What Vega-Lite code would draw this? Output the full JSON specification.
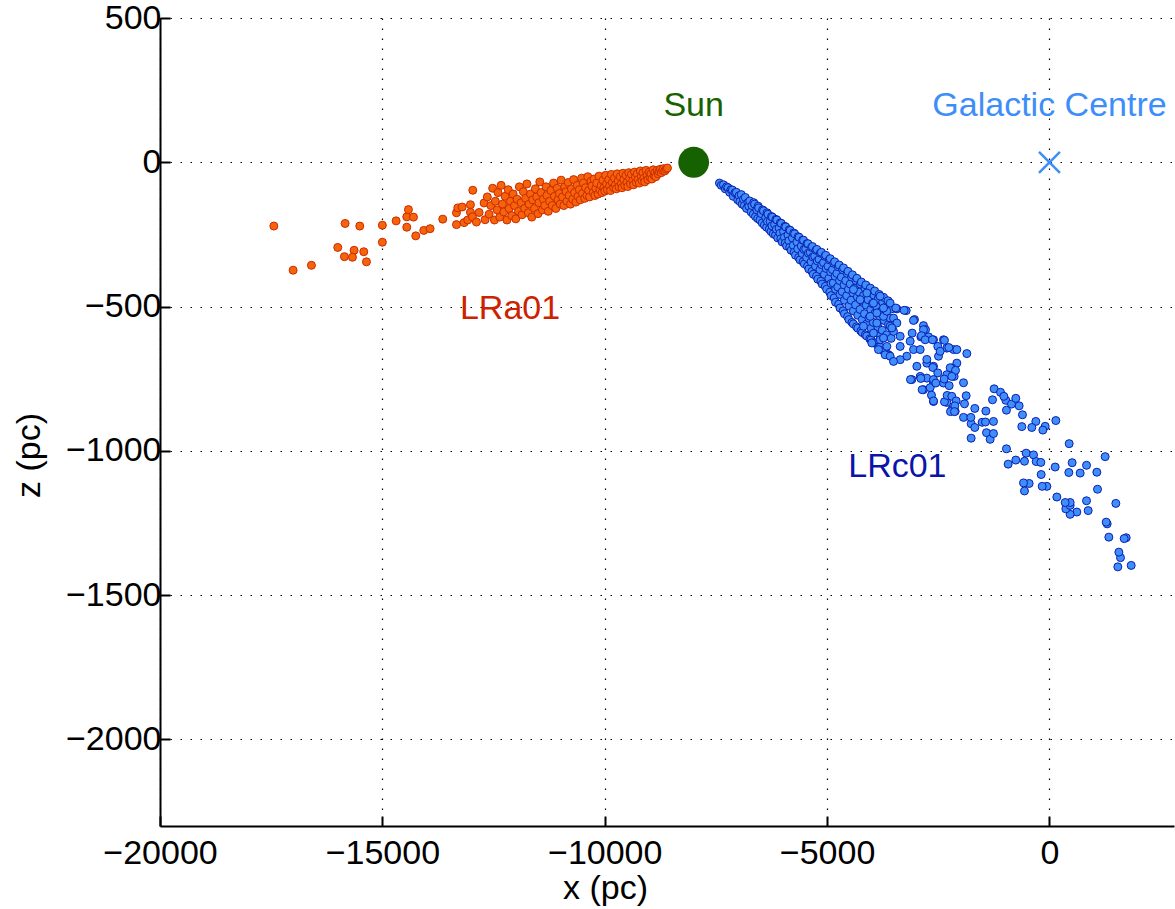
{
  "$schema": "https://vega.github.io/schema/vega-lite/v6.json",
  "width": 1014,
  "height": 808,
  "autosize": {"type": "none"},
  "padding": {"left": 160, "top": 18, "right": 1, "bottom": 83},
  "background": "white",
  "config": {
    "view": {"stroke": null},
    "font": "Liberation Sans",
    "axis": {
      "domainColor": "black",
      "domainWidth": 2,
      "tickColor": "black",
      "tickWidth": 2,
      "tickSize": -10,
      "grid": true,
      "gridColor": "black",
      "gridWidth": 1.2,
      "gridDash": [1.5, 8.5],
      "labelFlush": false,
      "labelOverlap": false,
      "labelFont": "Liberation Sans",
      "labelFontSize": 34,
      "labelColor": "black",
      "titleFont": "Liberation Sans",
      "titleFontSize": 34,
      "titleFontWeight": "normal",
      "titleColor": "black"
    }
  },
  "datasets": {
    "lrc": [
      {"x":-7420,"z":-72},{"x":-7380,"z":-80},
      {"x":-7330,"z":-78},{"x":-7290,"z":-92},{"x":-7260,"z":-85},
      {"x":-7230,"z":-88},{"x":-7190,"z":-104},{"x":-7160,"z":-95},
      {"x":-7130,"z":-96},{"x":-7110,"z":-118},{"x":-7070,"z":-106},
      {"x":-7040,"z":-104},{"x":-7010,"z":-130},{"x":-6980,"z":-116},{"x":-6960,"z":-136},
      {"x":-6930,"z":-112},{"x":-6910,"z":-145},{"x":-6880,"z":-128},{"x":-6860,"z":-150},
      {"x":-6840,"z":-122},{"x":-6810,"z":-160},{"x":-6780,"z":-140},{"x":-6760,"z":-152},
      {"x":-6740,"z":-134},{"x":-6710,"z":-172},{"x":-6690,"z":-150},{"x":-6660,"z":-180},{"x":-6650,"z":-140},
      {"x":-6630,"z":-145},{"x":-6610,"z":-188},{"x":-6580,"z":-165},{"x":-6560,"z":-195},{"x":-6550,"z":-152},
      {"x":-6540,"z":-158},{"x":-6510,"z":-200},{"x":-6480,"z":-178},{"x":-6460,"z":-210},{"x":-6450,"z":-165},
      {"x":-6430,"z":-168},{"x":-6410,"z":-218},{"x":-6380,"z":-192},{"x":-6360,"z":-225},{"x":-6350,"z":-175},{"x":-6340,"z":-205},
      {"x":-6330,"z":-180},{"x":-6300,"z":-232},{"x":-6280,"z":-205},{"x":-6260,"z":-240},{"x":-6250,"z":-188},{"x":-6240,"z":-220},
      {"x":-6230,"z":-190},{"x":-6210,"z":-248},{"x":-6180,"z":-215},{"x":-6160,"z":-252},{"x":-6150,"z":-198},{"x":-6140,"z":-232},
      {"x":-6130,"z":-200},{"x":-6110,"z":-262},{"x":-6080,"z":-228},{"x":-6060,"z":-246},{"x":-6050,"z":-210},{"x":-6040,"z":-265},
      {"x":-6030,"z":-212},{"x":-6010,"z":-276},{"x":-5980,"z":-240},{"x":-5960,"z":-260},{"x":-5950,"z":-222},{"x":-5940,"z":-280},
      {"x":-5930,"z":-224},{"x":-5910,"z":-290},{"x":-5880,"z":-252},{"x":-5860,"z":-272},{"x":-5850,"z":-234},{"x":-5840,"z":-295},
      {"x":-5830,"z":-236},{"x":-5810,"z":-305},{"x":-5780,"z":-262},{"x":-5760,"z":-288},{"x":-5750,"z":-245},{"x":-5740,"z":-312},
      {"x":-5730,"z":-248},{"x":-5710,"z":-322},{"x":-5680,"z":-276},{"x":-5660,"z":-300},{"x":-5650,"z":-258},{"x":-5640,"z":-330},
      {"x":-5630,"z":-260},{"x":-5610,"z":-338},{"x":-5580,"z":-290},{"x":-5560,"z":-316},{"x":-5550,"z":-270},{"x":-5540,"z":-345},{"x":-5520,"z":-302},
      {"x":-5530,"z":-270},{"x":-5510,"z":-352},{"x":-5480,"z":-300},{"x":-5460,"z":-330},{"x":-5450,"z":-282},{"x":-5440,"z":-360},{"x":-5420,"z":-315},
      {"x":-5430,"z":-282},{"x":-5410,"z":-370},{"x":-5380,"z":-312},{"x":-5360,"z":-345},{"x":-5350,"z":-295},{"x":-5340,"z":-378},{"x":-5320,"z":-328},
      {"x":-5330,"z":-292},{"x":-5310,"z":-388},{"x":-5280,"z":-325},{"x":-5260,"z":-360},{"x":-5250,"z":-305},{"x":-5240,"z":-395},{"x":-5220,"z":-342},
      {"x":-5230,"z":-302},{"x":-5210,"z":-405},{"x":-5180,"z":-336},{"x":-5160,"z":-372},{"x":-5150,"z":-315},{"x":-5140,"z":-412},{"x":-5120,"z":-355},
      {"x":-5130,"z":-312},{"x":-5110,"z":-422},{"x":-5080,"z":-348},{"x":-5060,"z":-388},{"x":-5050,"z":-326},{"x":-5040,"z":-430},{"x":-5020,"z":-368},
      {"x":-5030,"z":-322},{"x":-5010,"z":-440},{"x":-4980,"z":-360},{"x":-4960,"z":-402},{"x":-4950,"z":-338},{"x":-4940,"z":-450},{"x":-4920,"z":-380},{"x":-4910,"z":-420},
      {"x":-4930,"z":-334},{"x":-4910,"z":-462},{"x":-4880,"z":-372},{"x":-4860,"z":-418},{"x":-4850,"z":-350},{"x":-4840,"z":-470},{"x":-4820,"z":-395},{"x":-4810,"z":-440},
      {"x":-4830,"z":-345},{"x":-4810,"z":-485},{"x":-4780,"z":-385},{"x":-4760,"z":-432},{"x":-4750,"z":-362},{"x":-4740,"z":-492},{"x":-4720,"z":-410},{"x":-4710,"z":-458},
      {"x":-4730,"z":-356},{"x":-4710,"z":-505},{"x":-4680,"z":-398},{"x":-4660,"z":-448},{"x":-4650,"z":-372},{"x":-4640,"z":-515},{"x":-4620,"z":-425},{"x":-4610,"z":-478},
      {"x":-4630,"z":-366},{"x":-4610,"z":-525},{"x":-4580,"z":-410},{"x":-4560,"z":-462},{"x":-4550,"z":-385},{"x":-4540,"z":-535},{"x":-4520,"z":-440},{"x":-4510,"z":-498},
      {"x":-4530,"z":-378},{"x":-4510,"z":-545},{"x":-4480,"z":-422},{"x":-4460,"z":-478},{"x":-4450,"z":-398},{"x":-4440,"z":-555},{"x":-4420,"z":-452},{"x":-4410,"z":-515},
      {"x":-4430,"z":-390},{"x":-4410,"z":-560},{"x":-4380,"z":-436},{"x":-4360,"z":-494},{"x":-4350,"z":-410},{"x":-4340,"z":-570},{"x":-4320,"z":-466},{"x":-4310,"z":-530},
      {"x":-4330,"z":-402},{"x":-4310,"z":-575},{"x":-4280,"z":-450},{"x":-4260,"z":-510},{"x":-4250,"z":-422},{"x":-4240,"z":-585},{"x":-4220,"z":-480},{"x":-4210,"z":-545},
      {"x":-4230,"z":-415},{"x":-4210,"z":-590},{"x":-4180,"z":-462},{"x":-4160,"z":-525},{"x":-4150,"z":-436},{"x":-4140,"z":-598},{"x":-4120,"z":-495},{"x":-4110,"z":-560},
      {"x":-4130,"z":-425},{"x":-4110,"z":-602},{"x":-4080,"z":-476},{"x":-4060,"z":-540},{"x":-4050,"z":-448},{"x":-4040,"z":-612},{"x":-4020,"z":-510},{"x":-4010,"z":-575},
      {"x":-4030,"z":-436},{"x":-4010,"z":-615},{"x":-3980,"z":-490},{"x":-3960,"z":-555},{"x":-3950,"z":-460},{"x":-3940,"z":-625},{"x":-3920,"z":-522},{"x":-3910,"z":-590},
      {"x":-3930,"z":-446},{"x":-3910,"z":-628},{"x":-3880,"z":-502},{"x":-3860,"z":-570},{"x":-3850,"z":-472},{"x":-3840,"z":-640},{"x":-3820,"z":-535},{"x":-3810,"z":-602},
      {"x":-3830,"z":-458},{"x":-3810,"z":-640},{"x":-3780,"z":-515},{"x":-3760,"z":-582},{"x":-3750,"z":-485},{"x":-3740,"z":-652},{"x":-3720,"z":-548},
      {"x":-3730,"z":-468},{"x":-3710,"z":-655},{"x":-3680,"z":-528},{"x":-3660,"z":-598},{"x":-3650,"z":-496},{"x":-3640,"z":-665},{"x":-3620,"z":-562},
      {"x":-3630,"z":-480},{"x":-3610,"z":-668},{"x":-3580,"z":-540},{"x":-3560,"z":-610},{"x":-3550,"z":-508},{"x":-3530,"z":-580},
      {"x":-4407,"z":-441},{"x":-4257,"z":-476},{"x":-4107,"z":-453},{"x":-3957,"z":-488},{"x":-3807,"z":-464},{"x":-4032,"z":-534},
      {"x":-3882,"z":-557},{"x":-3732,"z":-534},{"x":-4182,"z":-568},{"x":-3957,"z":-592},{"x":-3807,"z":-615},{"x":-3657,"z":-516},
      {"x":-3582,"z":-488},{"x":-3732,"z":-505},{"x":-3882,"z":-522},{"x":-3507,"z":-540},{"x":-3432,"z":-557},{"x":-3995,"z":-626},
      {"x":-3845,"z":-649},{"x":-3695,"z":-667},{"x":-3582,"z":-672},
      {"x":-3432,"z":-508},{"x":-3222,"z":-514},{"x":-3035,"z":-545},{"x":-2833,"z":-566},{"x":-2787,"z":-580},{"x":-2892,"z":-605},
      {"x":-2720,"z":-605},{"x":-2608,"z":-615},{"x":-2383,"z":-615},{"x":-2308,"z":-644},{"x":-2158,"z":-649},{"x":-2083,"z":-696},
      {"x":-2195,"z":-713},{"x":-2308,"z":-736},{"x":-2143,"z":-742},{"x":-2383,"z":-765},{"x":-2608,"z":-765},{"x":-2758,"z":-748},
      {"x":-2907,"z":-742},{"x":-3095,"z":-753},{"x":-2833,"z":-788},{"x":-2608,"z":-829},{"x":-2308,"z":-832},{"x":-2195,"z":-857},
      {"x":-2120,"z":-863},{"x":-3057,"z":-649},{"x":-3207,"z":-672},{"x":-3357,"z":-684},{"x":-3507,"z":-690},{"x":-2982,"z":-707},
      {"x":-2758,"z":-696},{"x":-2608,"z":-707},{"x":-2495,"z":-672},{"x":-2907,"z":-649},{"x":-3132,"z":-620},{"x":-3357,"z":-603},
      {"x":-3507,"z":-586},{"x":-3582,"z":-568},{"x":-3732,"z":-609},{"x":-3657,"z":-638},{"x":-3357,"z":-638},
      {"x":-3545,"z":-574},{"x":-3455,"z":-505},{"x":-3268,"z":-513},{"x":-3058,"z":-548},{"x":-3088,"z":-592},{"x":-2833,"z":-580},
      {"x":-2878,"z":-601},{"x":-2795,"z":-615},{"x":-2631,"z":-615},{"x":-2511,"z":-638},{"x":-2458,"z":-655},{"x":-2623,"z":-711},
      {"x":-2758,"z":-683},{"x":-3125,"z":-753},{"x":-2893,"z":-749},{"x":-2863,"z":-788},{"x":-2683,"z":-781},{"x":-2653,"z":-807},
      {"x":-2608,"z":-827},{"x":-2608,"z":-753},{"x":-2556,"z":-765},{"x":-2511,"z":-730},{"x":-2368,"z":-751},{"x":-2361,"z":-617},
      {"x":-2263,"z":-642},{"x":-2083,"z":-649},{"x":-1858,"z":-663},{"x":-2233,"z":-712},{"x":-2113,"z":-721},{"x":-2196,"z":-742},
      {"x":-2255,"z":-774},{"x":-2361,"z":-830},{"x":-2301,"z":-808},{"x":-2196,"z":-811},{"x":-2098,"z":-827},{"x":-2128,"z":-844},
      {"x":-2226,"z":-864},{"x":-2136,"z":-864},{"x":-1933,"z":-764},{"x":-1873,"z":-809},{"x":-1761,"z":-906},{"x":-1933,"z":-884},
      {"x":-1911,"z":-837},{"x":-1768,"z":-884},{"x":-1761,"z":-956},{"x":-1679,"z":-919},{"x":-1679,"z":-853},{"x":-1514,"z":-901},
      {"x":-1431,"z":-862},{"x":-1439,"z":-900},{"x":-1416,"z":-937},{"x":-1334,"z":-960},{"x":-1259,"z":-940},{"x":-1259,"z":-898},
      {"x":-1281,"z":-823},{"x":-1244,"z":-785},{"x":-981,"z":-825},{"x":-1101,"z":-797},{"x":-1026,"z":-811},{"x":-967,"z":-859},
      {"x":-854,"z":-838},{"x":-757,"z":-818},{"x":-682,"z":-844},{"x":-607,"z":-875},{"x":-307,"z":-898},{"x":-97,"z":-915},
      {"x":-149,"z":-928},{"x":-397,"z":-919},{"x":-622,"z":-916},{"x":-562,"z":-1139},{"x":-457,"z":-1113},{"x":-584,"z":-1111},
      {"x":-967,"z":-993},{"x":-929,"z":-1046},{"x":-757,"z":-1032},{"x":-562,"z":-1036},{"x":-524,"z":-1008},{"x":-359,"z":-1014},
      {"x":-299,"z":-1037},{"x":-194,"z":-1040},{"x":-187,"z":-1082},{"x":-59,"z":-1123},{"x":-164,"z":-1123},{"x":166,"z":-1160},
      {"x":615,"z":-1212},{"x":465,"z":-1220},{"x":368,"z":-1201},{"x":465,"z":-1189},{"x":465,"z":-1179},{"x":353,"z":-1179},
      {"x":870,"z":-1207},{"x":833,"z":-1173},{"x":128,"z":-1056},{"x":510,"z":-1041},{"x":435,"z":-1075},{"x":690,"z":-1077},
      {"x":833,"z":-1050},{"x":1080,"z":-1133},{"x":1065,"z":-1074},{"x":1837,"z":-1397},{"x":1537,"z":-1402},{"x":1597,"z":-1370},
      {"x":1560,"z":-1351},{"x":1725,"z":-1301},{"x":1680,"z":-1304},{"x":1335,"z":-1299},{"x":1297,"z":-1253},{"x":1275,"z":-1247},
      {"x":1492,"z":-1182},{"x":1252,"z":-1020},{"x":443,"z":-975},{"x":143,"z":-895}
    ],
    "lra": [
      {"x":-17440,"z":-221},{"x":-17007,"z":-374},{"x":-16595,"z":-357},{"x":-16003,"z":-295},{"x":-15853,"z":-327},
      {"x":-15838,"z":-212},{"x":-15636,"z":-305},{"x":-15673,"z":-329},{"x":-15508,"z":-221},{"x":-15418,"z":-310},
      {"x":-15358,"z":-345},{"x":-15000,"z":-218},{"x":-15000,"z":-277},{"x":-14691,"z":-203},{"x":-14451,"z":-189},
      {"x":-14414,"z":-164},{"x":-14451,"z":-225},{"x":-14301,"z":-190},{"x":-14249,"z":-255},{"x":-14069,"z":-236},
      {"x":-13927,"z":-230},{"x":-13642,"z":-197},{"x":-13334,"z":-216},{"x":-13334,"z":-175},{"x":-13304,"z":-158},
      {"x":-13207,"z":-155},{"x":-13162,"z":-209},{"x":-13080,"z":-200},{"x":-13020,"z":-147},{"x":-13020,"z":-173},
      {"x":-12967,"z":-97},{"x":-12975,"z":-189},{"x":-12885,"z":-207},{"x":-12825,"z":-174},{"x":-12712,"z":-141},
      {"x":-12690,"z":-199},
      {"x":-12640,"z":-120},{"x":-12600,"z":-180},{"x":-12560,"z":-150},{"x":-12520,"z":-90},
      {"x":-12480,"z":-200},{"x":-12460,"z":-135},{"x":-12420,"z":-165},{"x":-12400,"z":-105},
      {"x":-12360,"z":-190},{"x":-12330,"z":-80},{"x":-12300,"z":-145},{"x":-12270,"z":-172},{"x":-12240,"z":-118},
      {"x":-12200,"z":-200},{"x":-12170,"z":-95},{"x":-12150,"z":-160},{"x":-12120,"z":-135},{"x":-12090,"z":-185},
      {"x":-12060,"z":-110},{"x":-12030,"z":-150},{"x":-12000,"z":-196},{"x":-11970,"z":-128},{"x":-11940,"z":-170},{"x":-11920,"z":-85},
      {"x":-11880,"z":-140},{"x":-11860,"z":-182},{"x":-11830,"z":-102},{"x":-11800,"z":-160},{"x":-11780,"z":-125},
      {"x":-11750,"z":-75},{"x":-11720,"z":-175},{"x":-11700,"z":-145},{"x":-11670,"z":-110},{"x":-11640,"z":-190},{"x":-11620,"z":-130},
      {"x":-11580,"z":-160},{"x":-11560,"z":-92},{"x":-11530,"z":-120},{"x":-11500,"z":-178},{"x":-11480,"z":-140},{"x":-11460,"z":-68},
      {"x":-11430,"z":-105},{"x":-11400,"z":-165},{"x":-11380,"z":-128},{"x":-11350,"z":-150},{"x":-11320,"z":-85},{"x":-11300,"z":-115},
      {"x":-11270,"z":-170},{"x":-11240,"z":-135},{"x":-11210,"z":-98},{"x":-11180,"z":-150},{"x":-11150,"z":-72},{"x":-11130,"z":-118},
      {"x":-11100,"z":-160},{"x":-11070,"z":-90},{"x":-11050,"z":-130},{"x":-11020,"z":-108},{"x":-11000,"z":-145},{"x":-10980,"z":-62},
      {"x":-10950,"z":-120},{"x":-10920,"z":-150},{"x":-10900,"z":-85},{"x":-10870,"z":-102},{"x":-10850,"z":-135},{"x":-10820,"z":-70},
      {"x":-10800,"z":-115},{"x":-10770,"z":-145},{"x":-10750,"z":-92},{"x":-10720,"z":-128},{"x":-10700,"z":-60},{"x":-10680,"z":-105},
      {"x":-10650,"z":-138},{"x":-10620,"z":-80},{"x":-10600,"z":-118},{"x":-10570,"z":-95},{"x":-10550,"z":-130},{"x":-10520,"z":-55},
      {"x":-10500,"z":-108},{"x":-10480,"z":-72},{"x":-10450,"z":-125},{"x":-10430,"z":-88},{"x":-10400,"z":-115},{"x":-10380,"z":-50},{"x":-10360,"z":-98},
      {"x":-10340,"z":-120},{"x":-10310,"z":-66},{"x":-10290,"z":-82},{"x":-10260,"z":-105},{"x":-10240,"z":-58},{"x":-10220,"z":-115},{"x":-10200,"z":-90},
      {"x":-10180,"z":-72},{"x":-10150,"z":-110},{"x":-10130,"z":-48},{"x":-10110,"z":-95},{"x":-10080,"z":-80},{"x":-10060,"z":-105},{"x":-10040,"z":-62},
      {"x":-10020,"z":-88},{"x":-10000,"z":-100},{"x":-9980,"z":-45},{"x":-9960,"z":-75},{"x":-9940,"z":-95},{"x":-9910,"z":-60},{"x":-9890,"z":-82},
      {"x":-9870,"z":-98},{"x":-9850,"z":-42},{"x":-9830,"z":-70},{"x":-9800,"z":-88},{"x":-9780,"z":-55},{"x":-9760,"z":-78},{"x":-9740,"z":-92},
      {"x":-9720,"z":-40},{"x":-9700,"z":-65},{"x":-9680,"z":-85},{"x":-9650,"z":-50},{"x":-9630,"z":-75},{"x":-9610,"z":-88},{"x":-9590,"z":-38},
      {"x":-9570,"z":-60},{"x":-9550,"z":-80},{"x":-9520,"z":-45},{"x":-9500,"z":-70},{"x":-9480,"z":-84},{"x":-9460,"z":-36},{"x":-9440,"z":-56},
      {"x":-9420,"z":-75},{"x":-9400,"z":-42},{"x":-9370,"z":-64},{"x":-9350,"z":-78},{"x":-9330,"z":-34},{"x":-9310,"z":-52},{"x":-9290,"z":-70},
      {"x":-9270,"z":-40},{"x":-9250,"z":-60},{"x":-9220,"z":-72},{"x":-9200,"z":-30},{"x":-9180,"z":-50},{"x":-9160,"z":-64},{"x":-9140,"z":-36},
      {"x":-9120,"z":-55},{"x":-9100,"z":-68},{"x":-9070,"z":-28},{"x":-9050,"z":-46},{"x":-9030,"z":-60},{"x":-9000,"z":-34},{"x":-8980,"z":-52},
      {"x":-8960,"z":-40},{"x":-8940,"z":-58},{"x":-8910,"z":-26},{"x":-8890,"z":-45},{"x":-8870,"z":-36},{"x":-8850,"z":-50},{"x":-8820,"z":-28},
      {"x":-8800,"z":-40},{"x":-8780,"z":-32},{"x":-8750,"z":-24},{"x":-8730,"z":-36},{"x":-8700,"z":-28},{"x":-8680,"z":-22},{"x":-8650,"z":-30},
      {"x":-8620,"z":-24},{"x":-8590,"z":-20}
    ]
  },
  "encoding": {
    "x": {
      "field": "x",
      "type": "quantitative",
      "scale": {"domain": [-20000, 2800], "nice": false, "zero": false},
      "axis": {
        "title": "x (pc)",
        "values": [-20000, -15000, -10000, -5000, 0],
        "format": "d",
        "labelFlush": false,
        "labelFontSize": 34,
        "titleFontSize": 34,
        "labelPadding": 20,
        "titlePadding": 1,
        "titleX": 445
      }
    },
    "y": {
      "field": "z",
      "type": "quantitative",
      "scale": {"domain": [-2300, 500], "nice": false, "zero": false},
      "axis": {
        "title": "z (pc)",
        "values": [500, 0, -500, -1000, -1500, -2000],
        "format": "d",
        "labelFlush": false,
        "labelFontSize": 34,
        "titleFontSize": 34,
        "labelPadding": 9,
        "titlePadding": 19,
        "titleY": 437
      }
    }
  },
  "layer": [
    {
      "data": {"name": "lrc"},
      "mark": {"type": "point", "shape": "circle", "filled": true, "size": 64, "fill": "#3f8efa", "stroke": "#0b1fb0", "strokeWidth": 1, "opacity": 1}
    },
    {
      "data": {"name": "lra"},
      "mark": {"type": "point", "shape": "circle", "filled": true, "size": 64, "fill": "#f5640a", "stroke": "#cc2a00", "strokeWidth": 1, "opacity": 1}
    },
    {
      "data": {"values": [{"x": -8000, "z": 0}]},
      "mark": {"type": "point", "shape": "circle", "filled": true, "size": 950, "fill": "#176200", "opacity": 1}
    },
    {
      "data": {"values": [{"x": 0, "z": 0}]},
      "mark": {"type": "point", "shape": "M-1,-1L1,1M-1,1L1,-1", "filled": false, "size": 440, "stroke": "#3d8ef8", "strokeWidth": 2.5, "opacity": 1}
    },
    {
      "data": {"values": [{"x": -8000, "z": 195, "label": "Sun"}]},
      "mark": {"type": "text", "fontSize": 34, "font": "Liberation Sans", "color": "#176200", "align": "center", "baseline": "middle"},
      "encoding": {"text": {"field": "label"}}
    },
    {
      "data": {"values": [{"x": 0, "z": 195, "label": "Galactic Centre"}]},
      "mark": {"type": "text", "fontSize": 34, "font": "Liberation Sans", "color": "#3d8ef8", "align": "center", "baseline": "middle"},
      "encoding": {"text": {"field": "label"}}
    },
    {
      "data": {"values": [{"x": -12130, "z": -510, "label": "LRa01"}]},
      "mark": {"type": "text", "fontSize": 34, "font": "Liberation Sans", "color": "#cc2200", "align": "center", "baseline": "middle"},
      "encoding": {"text": {"field": "label"}}
    },
    {
      "data": {"values": [{"x": -3420, "z": -1055, "label": "LRc01"}]},
      "mark": {"type": "text", "fontSize": 34, "font": "Liberation Sans", "color": "#0a14aa", "align": "center", "baseline": "middle"},
      "encoding": {"text": {"field": "label"}}
    }
  ]
}
